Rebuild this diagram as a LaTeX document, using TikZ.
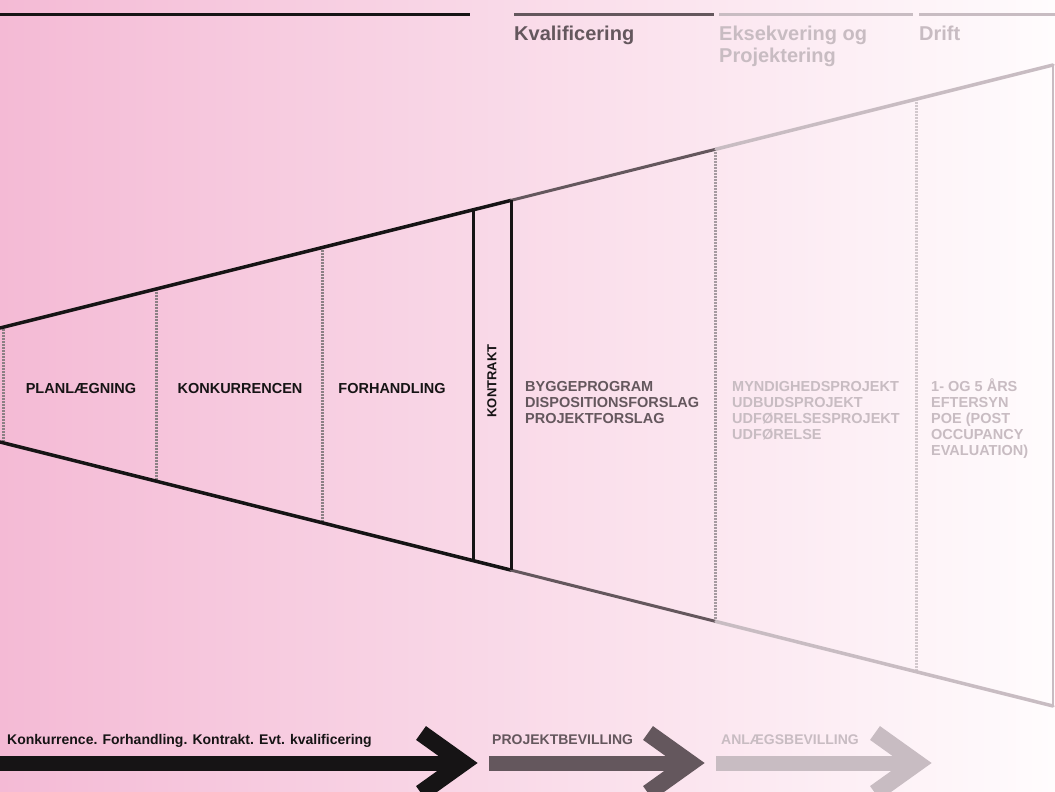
\documentclass[tikz,border=0pt]{standalone}
\usepackage{fontspec}
\setmainfont{Liberation Sans}
\usetikzlibrary{positioning, calc}

\definecolor{pinkleft}{RGB}{244,186,213}
\definecolor{pinkright}{RGB}{255,252,253}
\definecolor{ink}{RGB}{22,20,21}
\definecolor{midgray}{RGB}{100,87,93}
\definecolor{palegray}{RGB}{200,188,194}
\definecolor{dotgray}{RGB}{140,128,133}
\definecolor{dotmid}{RGB}{165,154,160}
\definecolor{dotpale}{RGB}{210,200,205}

\begin{document}
\begin{tikzpicture}[
          x=1pt, y=-1pt,
          phase/.style={font=\fontsize{14.5}{15.5}\selectfont\bfseries, text=ink, inner sep=0pt, anchor=base},
          items/.style={font=\fontsize{14.5}{16}\selectfont\bfseries, align=left, anchor=base west, inner sep=0pt},
          head/.style={font=\fontsize{20}{22}\selectfont\bfseries, align=left, anchor=base west, inner sep=0pt},
          caption/.style={font=\fontsize{14}{15}\selectfont\bfseries, anchor=base west, inner sep=0pt},
          rule/.style={line width=3pt},
          edge/.style={line width=3.5pt, line cap=round},
          split/.style={line width=3pt, dash pattern=on 2pt off 1pt},
          wall/.style={line width=3pt, ink},
          shaft/.style={line width=15pt},
          barb/.style={line width=17pt, line join=miter}
        ]
          % Background
          \shade[left color=pinkleft, right color=pinkright] (0,0) rectangle (1055,792);
          \useasboundingbox (0,0) rectangle (1055,792);

          % Header rules and titles (multi-line nodes sit on their last baseline)
          \draw[rule, ink] (0,15) -- (470,15);
          \draw[rule, midgray] (514,15) -- (714,15);
          \draw[rule, palegray] (719,15) -- (913,15);
          \draw[rule, palegray] (919,15) -- (1055,15);
          \node[head, text=midgray] (kval) at (514,41) {Kvalificering};
          \node[head, text=palegray] (eksek) at (719,63) {Eksekvering og\\Projektering};
          \node[head, text=palegray] (drift) at (919,41) {Drift};

          % Funnel corners
          \coordinate (tl) at (0,328);
          \coordinate (tr) at (1053,65);
          \coordinate (bl) at (0,442);
          \coordinate (br) at (1053,706);
          \coordinate (t157) at ($(tl)!{157/1053}!(tr)$);
          \coordinate (b157) at ($(bl)!{157/1053}!(br)$);
          \coordinate (t323) at ($(tl)!{323/1053}!(tr)$);
          \coordinate (b323) at ($(bl)!{323/1053}!(br)$);
          \coordinate (t473) at ($(tl)!{473/1053}!(tr)$);
          \coordinate (b473) at ($(bl)!{473/1053}!(br)$);
          \coordinate (t511) at ($(tl)!{511/1053}!(tr)$);
          \coordinate (b511) at ($(bl)!{511/1053}!(br)$);
          \coordinate (t716) at ($(tl)!{716/1053}!(tr)$);
          \coordinate (b716) at ($(bl)!{716/1053}!(br)$);
          \coordinate (t916) at ($(tl)!{916/1053}!(tr)$);
          \coordinate (b916) at ($(bl)!{916/1053}!(br)$);

          % Dotted dividers
          \draw[split, dotgray] (3,329) -- (3,441);
          \draw[split, dotgray] (t157) -- (b157);
          \draw[split, dotgray] (t323) -- (b323);
          \draw[split, dotmid] (t716) -- (b716);
          \draw[split, dotpale] (t916) -- (b916);

          % Funnel outline
          \draw[edge, ink] (tl) -- (t511);
          \draw[edge, ink] (bl) -- (b511);
          \draw[edge, midgray, line width=3pt] (t511) -- (t716);
          \draw[edge, midgray, line width=3pt] (b511) -- (b716);
          \draw[edge, palegray] (t716) -- (tr);
          \draw[edge, palegray] (b716) -- (br);
          \draw[palegray, line width=2.5pt] (tr) -- (br);

          % Contract box
          \draw[wall] (t473) -- (b473);
          \draw[wall] (t511) -- (b511);

          % Phases
          \node[phase] (plan) at (81,393) {PLANLÆGNING};
          \node[phase] (konk) at (240,393) {KONKURRENCEN};
          \node[phase] (forh) at (392,393) {FORHANDLING};
          \node[phase, anchor=center, rotate=90, font=\fontsize{13}{14}\selectfont\bfseries] (kontrakt) at (492,381) {KONTRAKT};

          % Deliverables (first baseline at 391, 16pt apart)
          \node[items, text=midgray] (bygge) at (525,423) {BYGGEPROGRAM\\DISPOSITIONSFORSLAG\\PROJEKTFORSLAG};
          \node[items, text=palegray] (udbud) at (732,439) {MYNDIGHEDSPROJEKT\\UDBUDSPROJEKT\\UDFØRELSESPROJEKT\\UDFØRELSE};
          \node[items, text=palegray] (poe) at (931,455) {1- OG 5 ÅRS\\EFTERSYN\\POE (POST\\OCCUPANCY\\EVALUATION)};

          % Arrows along the bottom
          \coordinate (a0) at (0,763);
          \coordinate (a0end) at (466,763);
          \coordinate (a0tip) at (463,763);
          \coordinate (b0) at (489,763);
          \coordinate (b0end) at (692,763);
          \coordinate (b0tip) at (690,763);
          \coordinate (c0) at (716,763);
          \coordinate (c0end) at (919,763);
          \coordinate (c0tip) at (917,763);

          \draw[shaft, ink] (a0) -- (a0end);
          \draw[barb, ink] ($(a0tip)+(-42,-30)$) -- (a0tip) -- ($(a0tip)+(-42,30)$);
          \draw[shaft, midgray] (b0) -- (b0end);
          \draw[barb, midgray] ($(b0tip)+(-42,-30)$) -- (b0tip) -- ($(b0tip)+(-42,30)$);
          \draw[shaft, palegray] (c0) -- (c0end);
          \draw[barb, palegray] ($(c0tip)+(-42,-30)$) -- (c0tip) -- ($(c0tip)+(-42,30)$);

          \node[caption, text=ink] (steps) at (7,744) {Konkurrence. Forhandling. Kontrakt. Evt. kvalificering};
          \node[caption, text=midgray] (projbev) at (492,744) {PROJEKTBEVILLING};
          \node[caption, text=palegray] (anlbev) at (721,744) {ANLÆGSBEVILLING};
      \end{tikzpicture}
\end{document}
